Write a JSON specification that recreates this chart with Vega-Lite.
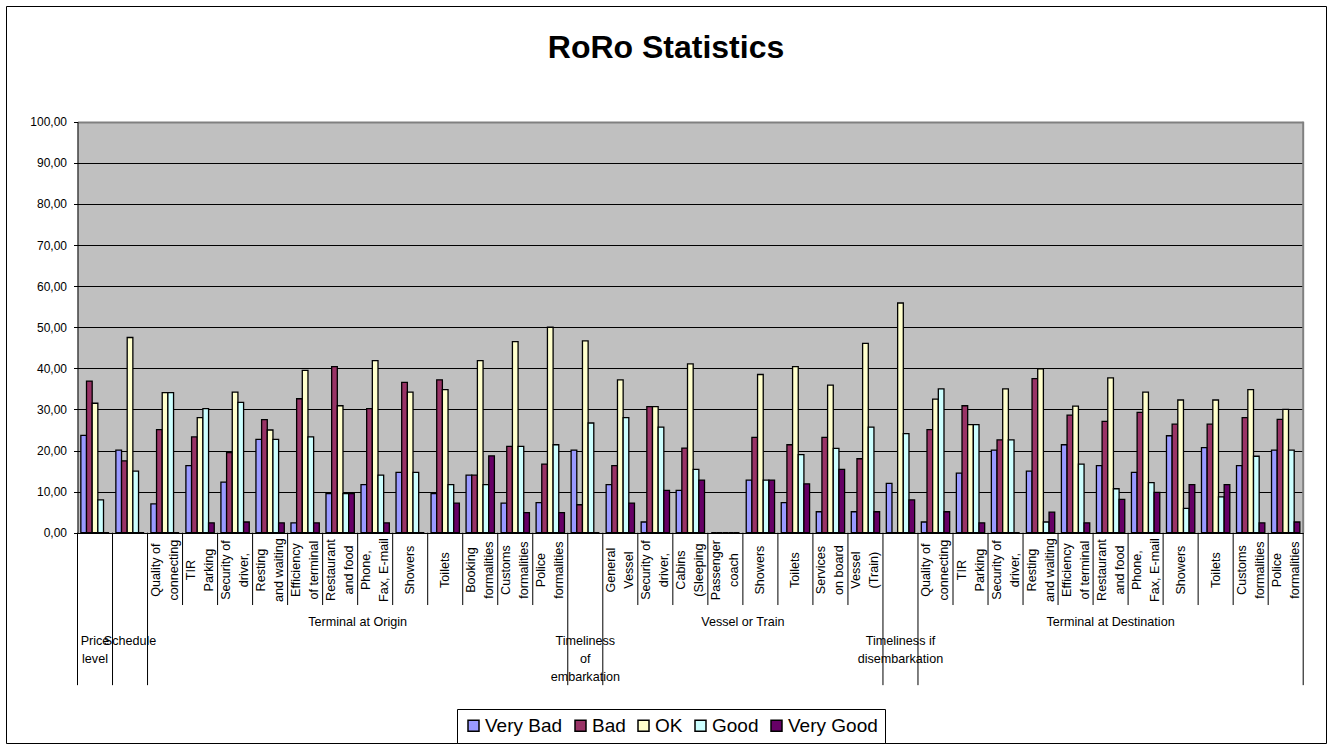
{
  "$schema": "https://vega.github.io/schema/vega-lite/v6.json",
  "width": 1320,
  "height": 737,
  "autosize": {"type": "none"},
  "padding": 6,
  "background": "white",
  "config": {
    "view": {"stroke": "black", "strokeWidth": 1, "fill": "white"},
    "font": "Liberation Sans",
    "text": {"font": "Liberation Sans", "color": "black"}
  },
  "title": {
    "text": "RoRo Statistics",
    "font": "Liberation Sans",
    "fontSize": 32,
    "fontWeight": "bold",
    "color": "black",
    "anchor": "middle",
    "baseline": "alphabetic",
    "offset": -84
  },
  "datasets": {
    "ratings": [
      {"cat": "01 Price level", "rating": "Very Bad", "pct": 23.7},
      {"cat": "01 Price level", "rating": "Bad", "pct": 36.9},
      {"cat": "01 Price level", "rating": "OK", "pct": 31.5},
      {"cat": "01 Price level", "rating": "Good", "pct": 8.0},
      {"cat": "01 Price level", "rating": "Very Good", "pct": 0},
      {"cat": "02 Schedule", "rating": "Very Bad", "pct": 20.1},
      {"cat": "02 Schedule", "rating": "Bad", "pct": 17.5},
      {"cat": "02 Schedule", "rating": "OK", "pct": 47.5},
      {"cat": "02 Schedule", "rating": "Good", "pct": 15.0},
      {"cat": "02 Schedule", "rating": "Very Good", "pct": 0},
      {"cat": "03 O Quality", "rating": "Very Bad", "pct": 7.0},
      {"cat": "03 O Quality", "rating": "Bad", "pct": 25.1},
      {"cat": "03 O Quality", "rating": "OK", "pct": 34.1},
      {"cat": "03 O Quality", "rating": "Good", "pct": 34.1},
      {"cat": "03 O Quality", "rating": "Very Good", "pct": 0},
      {"cat": "04 O TIR Parking", "rating": "Very Bad", "pct": 16.3},
      {"cat": "04 O TIR Parking", "rating": "Bad", "pct": 23.3},
      {"cat": "04 O TIR Parking", "rating": "OK", "pct": 28.0},
      {"cat": "04 O TIR Parking", "rating": "Good", "pct": 30.2},
      {"cat": "04 O TIR Parking", "rating": "Very Good", "pct": 2.4},
      {"cat": "05 O Security", "rating": "Very Bad", "pct": 12.3},
      {"cat": "05 O Security", "rating": "Bad", "pct": 19.5},
      {"cat": "05 O Security", "rating": "OK", "pct": 34.2},
      {"cat": "05 O Security", "rating": "Good", "pct": 31.7},
      {"cat": "05 O Security", "rating": "Very Good", "pct": 2.6},
      {"cat": "06 O Resting", "rating": "Very Bad", "pct": 22.7},
      {"cat": "06 O Resting", "rating": "Bad", "pct": 27.5},
      {"cat": "06 O Resting", "rating": "OK", "pct": 25.0},
      {"cat": "06 O Resting", "rating": "Good", "pct": 22.7},
      {"cat": "06 O Resting", "rating": "Very Good", "pct": 2.4},
      {"cat": "07 O Efficiency", "rating": "Very Bad", "pct": 2.4},
      {"cat": "07 O Efficiency", "rating": "Bad", "pct": 32.6},
      {"cat": "07 O Efficiency", "rating": "OK", "pct": 39.5},
      {"cat": "07 O Efficiency", "rating": "Good", "pct": 23.3},
      {"cat": "07 O Efficiency", "rating": "Very Good", "pct": 2.4},
      {"cat": "08 O Restaurant", "rating": "Very Bad", "pct": 9.5},
      {"cat": "08 O Restaurant", "rating": "Bad", "pct": 40.4},
      {"cat": "08 O Restaurant", "rating": "OK", "pct": 30.9},
      {"cat": "08 O Restaurant", "rating": "Good", "pct": 9.5},
      {"cat": "08 O Restaurant", "rating": "Very Good", "pct": 9.5},
      {"cat": "09 O Phone", "rating": "Very Bad", "pct": 11.7},
      {"cat": "09 O Phone", "rating": "Bad", "pct": 30.2},
      {"cat": "09 O Phone", "rating": "OK", "pct": 41.9},
      {"cat": "09 O Phone", "rating": "Good", "pct": 14.0},
      {"cat": "09 O Phone", "rating": "Very Good", "pct": 2.4},
      {"cat": "10 O Showers", "rating": "Very Bad", "pct": 14.7},
      {"cat": "10 O Showers", "rating": "Bad", "pct": 36.6},
      {"cat": "10 O Showers", "rating": "OK", "pct": 34.2},
      {"cat": "10 O Showers", "rating": "Good", "pct": 14.7},
      {"cat": "10 O Showers", "rating": "Very Good", "pct": 0},
      {"cat": "11 O Toilets", "rating": "Very Bad", "pct": 9.5},
      {"cat": "11 O Toilets", "rating": "Bad", "pct": 37.2},
      {"cat": "11 O Toilets", "rating": "OK", "pct": 34.8},
      {"cat": "11 O Toilets", "rating": "Good", "pct": 11.7},
      {"cat": "11 O Toilets", "rating": "Very Good", "pct": 7.2},
      {"cat": "12 O Booking", "rating": "Very Bad", "pct": 14.0},
      {"cat": "12 O Booking", "rating": "Bad", "pct": 14.0},
      {"cat": "12 O Booking", "rating": "OK", "pct": 41.9},
      {"cat": "12 O Booking", "rating": "Good", "pct": 11.7},
      {"cat": "12 O Booking", "rating": "Very Good", "pct": 18.7},
      {"cat": "13 O Customs", "rating": "Very Bad", "pct": 7.2},
      {"cat": "13 O Customs", "rating": "Bad", "pct": 21.0},
      {"cat": "13 O Customs", "rating": "OK", "pct": 46.5},
      {"cat": "13 O Customs", "rating": "Good", "pct": 21.0},
      {"cat": "13 O Customs", "rating": "Very Good", "pct": 4.9},
      {"cat": "14 O Police", "rating": "Very Bad", "pct": 7.3},
      {"cat": "14 O Police", "rating": "Bad", "pct": 16.7},
      {"cat": "14 O Police", "rating": "OK", "pct": 50.0},
      {"cat": "14 O Police", "rating": "Good", "pct": 21.4},
      {"cat": "14 O Police", "rating": "Very Good", "pct": 4.9},
      {"cat": "15 Timeliness embarkation", "rating": "Very Bad", "pct": 20.1},
      {"cat": "15 Timeliness embarkation", "rating": "Bad", "pct": 6.8},
      {"cat": "15 Timeliness embarkation", "rating": "OK", "pct": 46.7},
      {"cat": "15 Timeliness embarkation", "rating": "Good", "pct": 26.7},
      {"cat": "15 Timeliness embarkation", "rating": "Very Good", "pct": 0},
      {"cat": "16 V General", "rating": "Very Bad", "pct": 11.7},
      {"cat": "16 V General", "rating": "Bad", "pct": 16.3},
      {"cat": "16 V General", "rating": "OK", "pct": 37.2},
      {"cat": "16 V General", "rating": "Good", "pct": 28.0},
      {"cat": "16 V General", "rating": "Very Good", "pct": 7.2},
      {"cat": "17 V Security", "rating": "Very Bad", "pct": 2.6},
      {"cat": "17 V Security", "rating": "Bad", "pct": 30.7},
      {"cat": "17 V Security", "rating": "OK", "pct": 30.7},
      {"cat": "17 V Security", "rating": "Good", "pct": 25.7},
      {"cat": "17 V Security", "rating": "Very Good", "pct": 10.3},
      {"cat": "18 V Cabins", "rating": "Very Bad", "pct": 10.3},
      {"cat": "18 V Cabins", "rating": "Bad", "pct": 20.6},
      {"cat": "18 V Cabins", "rating": "OK", "pct": 41.1},
      {"cat": "18 V Cabins", "rating": "Good", "pct": 15.4},
      {"cat": "18 V Cabins", "rating": "Very Good", "pct": 12.8},
      {"cat": "19 V Passenger coach", "rating": "Very Bad", "pct": 0},
      {"cat": "19 V Passenger coach", "rating": "Bad", "pct": 0},
      {"cat": "19 V Passenger coach", "rating": "OK", "pct": 0},
      {"cat": "19 V Passenger coach", "rating": "Good", "pct": 0},
      {"cat": "19 V Passenger coach", "rating": "Very Good", "pct": 0},
      {"cat": "20 V Showers", "rating": "Very Bad", "pct": 12.8},
      {"cat": "20 V Showers", "rating": "Bad", "pct": 23.2},
      {"cat": "20 V Showers", "rating": "OK", "pct": 38.5},
      {"cat": "20 V Showers", "rating": "Good", "pct": 12.8},
      {"cat": "20 V Showers", "rating": "Very Good", "pct": 12.8},
      {"cat": "21 V Toilets", "rating": "Very Bad", "pct": 7.3},
      {"cat": "21 V Toilets", "rating": "Bad", "pct": 21.4},
      {"cat": "21 V Toilets", "rating": "OK", "pct": 40.4},
      {"cat": "21 V Toilets", "rating": "Good", "pct": 19.0},
      {"cat": "21 V Toilets", "rating": "Very Good", "pct": 11.9},
      {"cat": "22 V Services", "rating": "Very Bad", "pct": 5.1},
      {"cat": "22 V Services", "rating": "Bad", "pct": 23.2},
      {"cat": "22 V Services", "rating": "OK", "pct": 35.9},
      {"cat": "22 V Services", "rating": "Good", "pct": 20.5},
      {"cat": "22 V Services", "rating": "Very Good", "pct": 15.4},
      {"cat": "23 V Train", "rating": "Very Bad", "pct": 5.1},
      {"cat": "23 V Train", "rating": "Bad", "pct": 18.0},
      {"cat": "23 V Train", "rating": "OK", "pct": 46.1},
      {"cat": "23 V Train", "rating": "Good", "pct": 25.7},
      {"cat": "23 V Train", "rating": "Very Good", "pct": 5.1},
      {"cat": "24 Timeliness disembarkation", "rating": "Very Bad", "pct": 12.0},
      {"cat": "24 Timeliness disembarkation", "rating": "Bad", "pct": 0},
      {"cat": "24 Timeliness disembarkation", "rating": "OK", "pct": 55.9},
      {"cat": "24 Timeliness disembarkation", "rating": "Good", "pct": 24.1},
      {"cat": "24 Timeliness disembarkation", "rating": "Very Good", "pct": 8.0},
      {"cat": "25 D Quality", "rating": "Very Bad", "pct": 2.6},
      {"cat": "25 D Quality", "rating": "Bad", "pct": 25.1},
      {"cat": "25 D Quality", "rating": "OK", "pct": 32.5},
      {"cat": "25 D Quality", "rating": "Good", "pct": 35.0},
      {"cat": "25 D Quality", "rating": "Very Good", "pct": 5.1},
      {"cat": "26 D TIR Parking", "rating": "Very Bad", "pct": 14.5},
      {"cat": "26 D TIR Parking", "rating": "Bad", "pct": 30.9},
      {"cat": "26 D TIR Parking", "rating": "OK", "pct": 26.3},
      {"cat": "26 D TIR Parking", "rating": "Good", "pct": 26.3},
      {"cat": "26 D TIR Parking", "rating": "Very Good", "pct": 2.4},
      {"cat": "27 D Security", "rating": "Very Bad", "pct": 20.1},
      {"cat": "27 D Security", "rating": "Bad", "pct": 22.6},
      {"cat": "27 D Security", "rating": "OK", "pct": 35.0},
      {"cat": "27 D Security", "rating": "Good", "pct": 22.6},
      {"cat": "27 D Security", "rating": "Very Good", "pct": 0},
      {"cat": "28 D Resting", "rating": "Very Bad", "pct": 15.0},
      {"cat": "28 D Resting", "rating": "Bad", "pct": 37.5},
      {"cat": "28 D Resting", "rating": "OK", "pct": 39.9},
      {"cat": "28 D Resting", "rating": "Good", "pct": 2.6},
      {"cat": "28 D Resting", "rating": "Very Good", "pct": 5.0},
      {"cat": "29 D Efficiency", "rating": "Very Bad", "pct": 21.4},
      {"cat": "29 D Efficiency", "rating": "Bad", "pct": 28.6},
      {"cat": "29 D Efficiency", "rating": "OK", "pct": 30.8},
      {"cat": "29 D Efficiency", "rating": "Good", "pct": 16.7},
      {"cat": "29 D Efficiency", "rating": "Very Good", "pct": 2.4},
      {"cat": "30 D Restaurant", "rating": "Very Bad", "pct": 16.3},
      {"cat": "30 D Restaurant", "rating": "Bad", "pct": 27.1},
      {"cat": "30 D Restaurant", "rating": "OK", "pct": 37.7},
      {"cat": "30 D Restaurant", "rating": "Good", "pct": 10.7},
      {"cat": "30 D Restaurant", "rating": "Very Good", "pct": 8.1},
      {"cat": "31 D Phone", "rating": "Very Bad", "pct": 14.7},
      {"cat": "31 D Phone", "rating": "Bad", "pct": 29.3},
      {"cat": "31 D Phone", "rating": "OK", "pct": 34.2},
      {"cat": "31 D Phone", "rating": "Good", "pct": 12.2},
      {"cat": "31 D Phone", "rating": "Very Good", "pct": 9.8},
      {"cat": "32 D Showers", "rating": "Very Bad", "pct": 23.6},
      {"cat": "32 D Showers", "rating": "Bad", "pct": 26.4},
      {"cat": "32 D Showers", "rating": "OK", "pct": 32.3},
      {"cat": "32 D Showers", "rating": "Good", "pct": 5.9},
      {"cat": "32 D Showers", "rating": "Very Good", "pct": 11.7},
      {"cat": "33 D Toilets", "rating": "Very Bad", "pct": 20.7},
      {"cat": "33 D Toilets", "rating": "Bad", "pct": 26.4},
      {"cat": "33 D Toilets", "rating": "OK", "pct": 32.3},
      {"cat": "33 D Toilets", "rating": "Good", "pct": 8.7},
      {"cat": "33 D Toilets", "rating": "Very Good", "pct": 11.7},
      {"cat": "34 D Customs", "rating": "Very Bad", "pct": 16.3},
      {"cat": "34 D Customs", "rating": "Bad", "pct": 28.0},
      {"cat": "34 D Customs", "rating": "OK", "pct": 34.8},
      {"cat": "34 D Customs", "rating": "Good", "pct": 18.6},
      {"cat": "34 D Customs", "rating": "Very Good", "pct": 2.4},
      {"cat": "35 D Police", "rating": "Very Bad", "pct": 20.1},
      {"cat": "35 D Police", "rating": "Bad", "pct": 27.6},
      {"cat": "35 D Police", "rating": "OK", "pct": 30.0},
      {"cat": "35 D Police", "rating": "Good", "pct": 20.1},
      {"cat": "35 D Police", "rating": "Very Good", "pct": 2.6}
    ],
    "categories": [
      {"cat": "01 Price level", "sub": "", "lines": 0, "top": "Price\nlevel", "edge": "long"},
      {"cat": "02 Schedule", "sub": "", "lines": 0, "top": "Schedule", "edge": "long"},
      {"cat": "03 O Quality", "sub": "Quality of\nconnecting", "lines": 2, "top": "", "edge": "long"},
      {"cat": "04 O TIR Parking", "sub": "TIR\nParking", "lines": 2, "top": "", "edge": "short"},
      {"cat": "05 O Security", "sub": "Security of\ndriver,", "lines": 2, "top": "", "edge": "short"},
      {"cat": "06 O Resting", "sub": "Resting\nand waiting", "lines": 2, "top": "", "edge": "short"},
      {"cat": "07 O Efficiency", "sub": "Efficiency\nof terminal", "lines": 2, "top": "", "edge": "short"},
      {"cat": "08 O Restaurant", "sub": "Restaurant\nand food", "lines": 2, "top": "", "edge": "short"},
      {"cat": "09 O Phone", "sub": "Phone,\nFax, E-mail", "lines": 2, "top": "", "edge": "short"},
      {"cat": "10 O Showers", "sub": "Showers", "lines": 1, "top": "", "edge": "short"},
      {"cat": "11 O Toilets", "sub": "Toilets", "lines": 1, "top": "", "edge": "short"},
      {"cat": "12 O Booking", "sub": "Booking\nformalities", "lines": 2, "top": "", "edge": "short"},
      {"cat": "13 O Customs", "sub": "Customs\nformalities", "lines": 2, "top": "", "edge": "short"},
      {"cat": "14 O Police", "sub": "Police\nformalities", "lines": 2, "top": "", "edge": "short"},
      {"cat": "15 Timeliness embarkation", "sub": "", "lines": 0, "top": "Timeliness\nof\nembarkation", "edge": "long"},
      {"cat": "16 V General", "sub": "General\nVessel", "lines": 2, "top": "", "edge": "long"},
      {"cat": "17 V Security", "sub": "Security of\ndriver,", "lines": 2, "top": "", "edge": "short"},
      {"cat": "18 V Cabins", "sub": "Cabins\n(Sleeping", "lines": 2, "top": "", "edge": "short"},
      {"cat": "19 V Passenger coach", "sub": "Passenger\ncoach", "lines": 2, "top": "", "edge": "short"},
      {"cat": "20 V Showers", "sub": "Showers", "lines": 1, "top": "", "edge": "short"},
      {"cat": "21 V Toilets", "sub": "Toilets", "lines": 1, "top": "", "edge": "short"},
      {"cat": "22 V Services", "sub": "Services\non board", "lines": 2, "top": "", "edge": "short"},
      {"cat": "23 V Train", "sub": "Vessel\n(Train)", "lines": 2, "top": "", "edge": "short"},
      {"cat": "24 Timeliness disembarkation", "sub": "", "lines": 0, "top": "Timeliness if\ndisembarkation", "edge": "long"},
      {"cat": "25 D Quality", "sub": "Quality of\nconnecting", "lines": 2, "top": "", "edge": "long"},
      {"cat": "26 D TIR Parking", "sub": "TIR\nParking", "lines": 2, "top": "", "edge": "short"},
      {"cat": "27 D Security", "sub": "Security of\ndriver,", "lines": 2, "top": "", "edge": "short"},
      {"cat": "28 D Resting", "sub": "Resting\nand waiting", "lines": 2, "top": "", "edge": "short"},
      {"cat": "29 D Efficiency", "sub": "Efficiency\nof terminal", "lines": 2, "top": "", "edge": "short"},
      {"cat": "30 D Restaurant", "sub": "Restaurant\nand food", "lines": 2, "top": "", "edge": "short"},
      {"cat": "31 D Phone", "sub": "Phone,\nFax, E-mail", "lines": 2, "top": "", "edge": "short"},
      {"cat": "32 D Showers", "sub": "Showers", "lines": 1, "top": "", "edge": "short"},
      {"cat": "33 D Toilets", "sub": "Toilets", "lines": 1, "top": "", "edge": "short"},
      {"cat": "34 D Customs", "sub": "Customs\nformalities", "lines": 2, "top": "", "edge": "short"},
      {"cat": "35 D Police", "sub": "Police\nformalities", "lines": 2, "top": "", "edge": "short"}
    ],
    "groups": [
      {"cat": "08 O Restaurant", "group": "Terminal at Origin", "anchor": "end"},
      {"cat": "19 V Passenger coach", "group": "Vessel or Train", "anchor": "end"},
      {"cat": "30 D Restaurant", "group": "Terminal at Destination", "anchor": "middle"}
    ]
  },
  "layer": [
    {
      "data": {"name": "ratings"},
      "mark": {"type": "bar", "stroke": "black", "strokeWidth": 1.3},
      "encoding": {
        "x": {
          "field": "cat",
          "type": "nominal",
          "scale": {"range": [71.5, 1297.2], "paddingInner": 0, "paddingOuter": 0},
          "axis": {
            "orient": "top",
            "title": null,
            "labels": false,
            "ticks": false,
            "domain": false,
            "grid": true,
            "bandPosition": 0.5,
            "gridColor": "#c0c0c0",
            "gridWidth": 36,
            "gridOpacity": 1
          }
        },
        "xOffset": {
          "field": "rating",
          "type": "nominal",
          "scale": {
            "domain": ["Very Bad", "Bad", "OK", "Good", "Very Good"],
            "paddingInner": 0,
            "paddingOuter": 0.59
          }
        },
        "y": {
          "field": "pct",
          "type": "quantitative",
          "scale": {"domain": [0, 100], "range": [526.7, 115.8], "nice": false},
          "axis": {
            "title": null,
            "offset": -71.5,
            "values": [0, 10, 20, 30, 40, 50, 60, 70, 80, 90, 100],
            "labelExpr": "replace(format(datum.value, '.2f'), '.', ',')",
            "labelFont": "Liberation Sans",
            "labelFontSize": 12,
            "labelColor": "black",
            "labelPadding": 7,
            "tickSize": 4,
            "tickColor": "black",
            "domainColor": "black",
            "domainWidth": 1,
            "grid": true,
            "gridOpacity": 1,
            "gridColor": {"condition": {"test": "datum.value === 100", "value": "#808080"}, "value": "black"},
            "gridWidth": {"condition": {"test": "datum.value === 100", "value": 2}, "value": 1}
          }
        },
        "color": {
          "field": "rating",
          "type": "nominal",
          "scale": {
            "domain": ["Very Bad", "Bad", "OK", "Good", "Very Good"],
            "range": ["#9999FF", "#993366", "#FFFFCC", "#CCFFFF", "#660066"]
          },
          "legend": {
            "title": null,
            "orient": "none",
            "legendX": 451,
            "legendY": 703,
            "direction": "horizontal",
            "strokeColor": "black",
            "fillColor": "white",
            "padding": 7,
            "symbolType": "square",
            "symbolSize": 121,
            "symbolStrokeColor": "black",
            "symbolStrokeWidth": 1.5,
            "symbolOpacity": 1,
            "labelFont": "Liberation Sans",
            "labelFontSize": 19,
            "labelColor": "black",
            "labelOffset": 2,
            "columnPadding": 8,
            "labelLimit": 300
          }
        }
      }
    },
    {
      "data": {"name": "categories"},
      "transform": [{"filter": "datum.cat === '35 D Police'"}],
      "mark": {"type": "rule", "color": "#808080", "strokeWidth": 2},
      "encoding": {
        "x": {"field": "cat", "type": "nominal", "bandPosition": 1},
        "y": {"datum": 0, "type": "quantitative"},
        "y2": {"datum": 100}
      }
    },
    {
      "data": {"name": "categories"},
      "transform": [{"filter": "datum.edge === 'short'"}],
      "mark": {"type": "rule", "color": "black", "strokeWidth": 1},
      "encoding": {
        "x": {"field": "cat", "type": "nominal", "bandPosition": 0},
        "y": {"datum": 0, "type": "quantitative"},
        "y2": {"datum": -17.6}
      }
    },
    {
      "data": {"name": "categories"},
      "transform": [{"filter": "datum.edge === 'long'"}],
      "mark": {"type": "rule", "color": "black", "strokeWidth": 1},
      "encoding": {
        "x": {"field": "cat", "type": "nominal", "bandPosition": 0},
        "y": {"datum": 0, "type": "quantitative"},
        "y2": {"datum": -37.1}
      }
    },
    {
      "data": {"name": "categories"},
      "transform": [{"filter": "datum.cat === '35 D Police'"}],
      "mark": {"type": "rule", "color": "black", "strokeWidth": 1},
      "encoding": {
        "x": {"field": "cat", "type": "nominal", "bandPosition": 1},
        "y": {"datum": 0, "type": "quantitative"},
        "y2": {"datum": -37.1}
      }
    },
    {
      "data": {"name": "categories"},
      "transform": [{"filter": "datum.lines === 1"}],
      "mark": {
        "type": "text",
        "angle": 270,
        "align": "center",
        "baseline": "middle",
        "font": "Liberation Sans",
        "fontSize": 12.6,
        "color": "black"
      },
      "encoding": {
        "x": {"field": "cat", "type": "nominal"},
        "y": {"datum": -9.1, "type": "quantitative"},
        "text": {"field": "sub", "type": "nominal"}
      }
    },
    {
      "data": {"name": "categories"},
      "transform": [{"filter": "datum.lines === 2"}],
      "mark": {
        "type": "text",
        "angle": 270,
        "align": "center",
        "baseline": "middle",
        "lineBreak": "\n",
        "lineHeight": 18,
        "dy": -9,
        "font": "Liberation Sans",
        "fontSize": 12.6,
        "color": "black"
      },
      "encoding": {
        "x": {"field": "cat", "type": "nominal"},
        "y": {"datum": -9.1, "type": "quantitative"},
        "text": {"field": "sub", "type": "nominal"}
      }
    },
    {
      "data": {"name": "categories"},
      "transform": [{"filter": "datum.top !== ''"}],
      "mark": {
        "type": "text",
        "align": "center",
        "baseline": "top",
        "lineBreak": "\n",
        "lineHeight": 18,
        "font": "Liberation Sans",
        "fontSize": 12.6,
        "color": "black"
      },
      "encoding": {
        "x": {"field": "cat", "type": "nominal"},
        "y": {"datum": -24.8, "type": "quantitative"},
        "text": {"field": "top", "type": "nominal"}
      }
    },
    {
      "data": {"name": "groups"},
      "transform": [{"filter": "datum.anchor === 'end'"}],
      "mark": {"type": "text", "align": "center", "baseline": "middle", "font": "Liberation Sans", "fontSize": 12.6, "color": "black"},
      "encoding": {
        "x": {"field": "cat", "type": "nominal", "bandPosition": 1},
        "y": {"datum": -21.7, "type": "quantitative"},
        "text": {"field": "group", "type": "nominal"}
      }
    },
    {
      "data": {"name": "groups"},
      "transform": [{"filter": "datum.anchor === 'middle'"}],
      "mark": {"type": "text", "align": "center", "baseline": "middle", "font": "Liberation Sans", "fontSize": 12.6, "color": "black"},
      "encoding": {
        "x": {"field": "cat", "type": "nominal", "bandPosition": 0.5},
        "y": {"datum": -21.7, "type": "quantitative"},
        "text": {"field": "group", "type": "nominal"}
      }
    }
  ]
}
